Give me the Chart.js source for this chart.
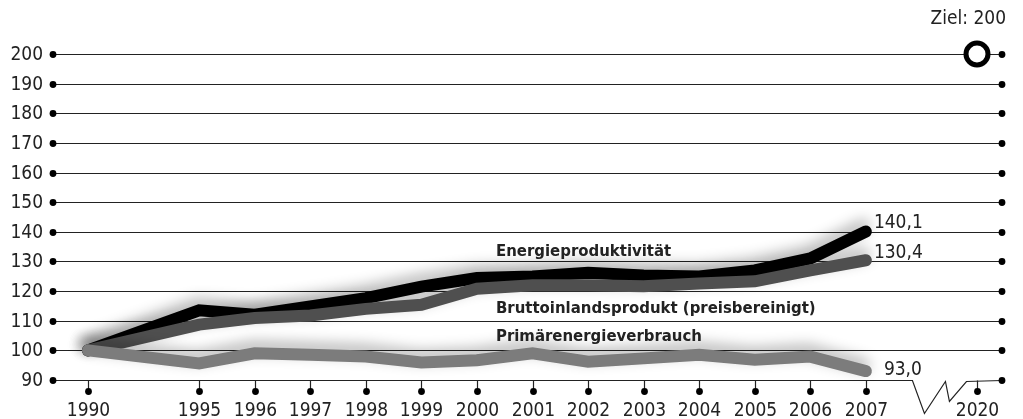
<!DOCTYPE html>
<html>
<head>
<meta charset="utf-8">
<script src="https://cdn.jsdelivr.net/npm/chart.js@4"></script>
<style>
  html, body { margin: 0; padding: 0; background: #fff; }
  #wrap { width: 1023px; height: 419px; }
</style>
</head>
<body>
<div id="wrap"><canvas id="energyChart"></canvas></div>
<script>
// Index 1990 = 100
var years = ['1990', '1995', '1996', '1997', '1998', '1999', '2000', '2001', '2002', '2003', '2004', '2005', '2006', '2007'];
var energieproduktivitaet = [100, 113.5, 112, 114.8, 117.6, 121.5, 124.4, 124.9, 126.2, 125.3, 124.9, 127, 131, 140.1];
var bruttoinlandsprodukt = [100, 108.7, 110.9, 111.8, 114, 115.4, 120.8, 122, 122, 121.6, 122.6, 123.3, 127, 130.4];
var primaerenergie = [100, 95.6, 99, 98.5, 97.9, 95.9, 96.7, 99, 96.2, 97.3, 98.5, 96.8, 97.9, 93.0];
var targetYear = '2020';
var targetValue = 200;
var yTicks = [90, 100, 110, 120, 130, 140, 150, 160, 170, 180, 190, 200];

;(function () {
    'use strict';

    var FONT = '"DejaVu Sans Condensed", "DejaVu Sans", sans-serif';
    var INK = '#222';

    // category axis with an empty slot after 1990 and one before 2020
    var xLabels = [years[0], ''].concat(years.slice(1), ['', targetYear]);

    function withGaps(arr) {
        return [arr[0], null].concat(arr.slice(1), [null, null]);
    }
    var target = xLabels.map(function (l) { return l === targetYear ? targetValue : null; });

    var decoPlugin = {
        id: 'deco',
        beforeDatasetsDraw: function (chart) {
            var ctx = chart.ctx, ca = chart.chartArea;
            var xs = chart.scales.x, ys = chart.scales.y;
            var xL = ca.left - 35, xR = ca.right + 25;
            var y0 = Math.round(ys.getPixelForValue(yTicks[0])) + 0.5;
            var mid = xs.getPixelForValue(xLabels.length - 2);

            ctx.save();
            ctx.strokeStyle = INK;
            ctx.fillStyle = '#000';
            ctx.lineWidth = 1.2;
            ctx.font = '19px ' + FONT;

            yTicks.forEach(function (v) {
                var y = Math.round(ys.getPixelForValue(v)) + 0.5;
                ctx.beginPath();
                if (v === yTicks[0]) {
                    // baseline with the axis break
                    ctx.moveTo(xL, y);
                    ctx.lineTo(mid - 9, y);
                    ctx.lineTo(mid + 3, y + 33);
                    ctx.lineTo(mid + 24, y + 1);
                    ctx.lineTo(mid + 28, y + 21);
                    ctx.lineTo(mid + 45, y + 1);
                    ctx.lineTo(xR, y);
                } else {
                    ctx.moveTo(xL, y);
                    ctx.lineTo(xR, y);
                }
                ctx.stroke();
                [xL, xR].forEach(function (x) {
                    ctx.beginPath();
                    ctx.arc(x, y, 3.4, 0, Math.PI * 2);
                    ctx.fill();
                });
                // y tick label
                ctx.save();
                ctx.fillStyle = INK;
                ctx.textAlign = 'right';
                ctx.textBaseline = 'middle';
                ctx.fillText(String(v), xL - 10, y + 1);
                ctx.restore();
            });

            // x ticks with dots and labels
            xLabels.forEach(function (l, i) {
                if (!l) return;
                var x = Math.round(xs.getPixelForValue(i)) + 0.5;
                ctx.beginPath();
                ctx.moveTo(x, y0);
                ctx.lineTo(x, y0 + 11);
                ctx.stroke();
                ctx.beginPath();
                ctx.arc(x, y0 + 11, 3.4, 0, Math.PI * 2);
                ctx.fill();
                ctx.save();
                ctx.fillStyle = INK;
                ctx.textAlign = 'center';
                ctx.textBaseline = 'alphabetic';
                ctx.fillText(l, x, y0 + 35);
                ctx.restore();
            });
            ctx.restore();
        },
        beforeDatasetDraw: function (chart, args) {
            if (args.meta._dataset.isTarget) return;
            var ctx = chart.ctx;
            ctx.save();
            ctx.shadowColor = 'rgba(0,0,0,0.3)';
            ctx.shadowBlur = 14;
            ctx.shadowOffsetX = -2;
            ctx.shadowOffsetY = -6;
        },
        afterDatasetDraw: function (chart, args) {
            if (args.meta._dataset.isTarget) return;
            chart.ctx.restore();
        },
        afterDatasetsDraw: function (chart) {
            var ctx = chart.ctx;
            var xs = chart.scales.x, ys = chart.scales.y;
            var xStart = xs.getPixelForValue(xLabels.indexOf('2000')) + 19;
            var xEnd = xs.getPixelForValue(xLabels.indexOf('2007'));

            ctx.save();
            ctx.fillStyle = INK;
            ctx.textBaseline = 'alphabetic';

            ctx.font = 'bold 16.6px ' + FONT;
            ctx.textAlign = 'left';
            ctx.fillText('Energieproduktivität', xStart, ys.getPixelForValue(131.8));
            ctx.fillText('Bruttoinlandsprodukt (preisbereinigt)', xStart, ys.getPixelForValue(112.6));
            ctx.fillText('Primärenergieverbrauch', xStart, ys.getPixelForValue(103.2));

            ctx.font = '19px ' + FONT;
            ctx.fillText('140,1', xEnd + 8, ys.getPixelForValue(141.3));
            ctx.fillText('130,4', xEnd + 8, ys.getPixelForValue(131.2));
            ctx.fillText('93,0', xEnd + 18, ys.getPixelForValue(91.7));

            ctx.textAlign = 'right';
            ctx.fillText('Ziel: 200', chart.width - 17, 24);
            ctx.restore();
        }
    };

    var lineStyle = {
        borderWidth: 12,
        pointRadius: 0,
        pointHoverRadius: 0,
        spanGaps: true,
        tension: 0,
        borderCapStyle: 'round',
        borderJoinStyle: 'miter',
        fill: false,
        clip: false
    };

    var config = {
        type: 'line',
        data: {
            labels: xLabels,
            datasets: [
                Object.assign({
                    label: 'Energieproduktivität',
                    data: withGaps(energieproduktivitaet),
                    borderColor: '#000',
                    order: 3
                }, lineStyle),
                Object.assign({
                    label: 'Bruttoinlandsprodukt (preisbereinigt)',
                    data: withGaps(bruttoinlandsprodukt),
                    borderColor: '#4f4f4f',
                    order: 2
                }, lineStyle),
                Object.assign({
                    label: 'Primärenergieverbrauch',
                    data: withGaps(primaerenergie),
                    borderColor: '#7c7c7c',
                    order: 1
                }, lineStyle),
                {
                    label: 'Ziel',
                    isTarget: true,
                    data: target,
                    showLine: false,
                    pointStyle: 'circle',
                    pointRadius: 11,
                    pointBorderWidth: 5,
                    pointBorderColor: '#000',
                    pointBackgroundColor: '#fff',
                    clip: false,
                    order: 0
                }
            ]
        },
        options: {
            responsive: true,
            maintainAspectRatio: false,
            animation: false,
            events: [],
            layout: { padding: { top: 54, right: 46, left: 88, bottom: 39 } },
            plugins: {
                legend: { display: false },
                tooltip: { enabled: false },
                title: { display: false }
            },
            scales: {
                x: {
                    display: false,
                    offset: false
                },
                y: {
                    display: false,
                    min: 90,
                    max: 200
                }
            }
        },
        plugins: [decoPlugin]
    };

    new Chart(document.getElementById('energyChart'), config);
}());
</script>
</body>
</html>
